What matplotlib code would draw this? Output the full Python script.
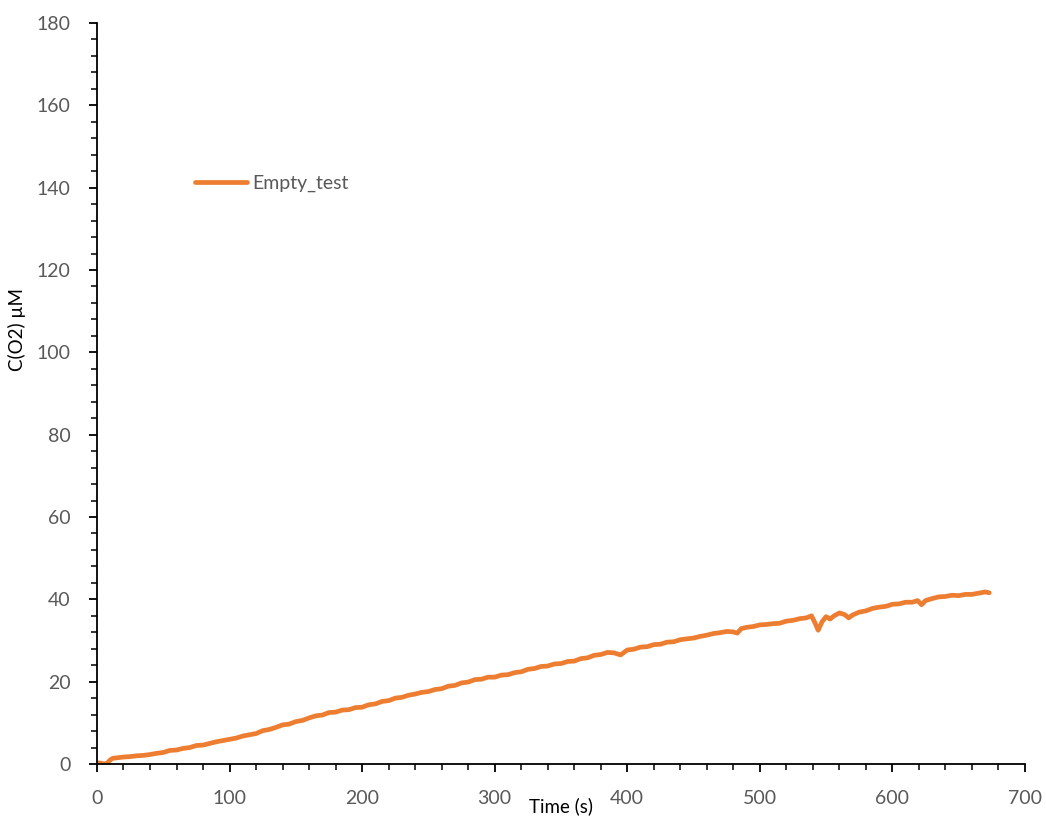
import matplotlib
matplotlib.use("Agg")
import matplotlib.pyplot as plt
from matplotlib.ticker import MultipleLocator

plt.rcParams['font.family'] = ['Lato', 'DejaVu Sans']

# Oxygen concentration recorded during the empty-chamber test
time_s = [0, 3, 6, 8, 10, 12, 15, 20, 25, 30, 35, 40, 45, 50, 55, 60, 65, 70,
          75, 80, 85, 90, 95, 100, 105, 110, 115, 120, 125, 130, 135, 140, 145,
          150, 155, 160, 165, 170, 175, 180, 185, 190, 195, 200, 205, 210, 215,
          220, 225, 230, 235, 240, 245, 250, 255, 260, 265, 270, 275, 280, 285,
          290, 295, 300, 305, 310, 315, 320, 325, 330, 335, 340, 345, 350, 355,
          360, 365, 370, 375, 380, 385, 390, 395, 400, 405, 410, 415, 420, 425,
          430, 435, 440, 445, 450, 455, 460, 465, 470, 475, 480, 483, 486, 490,
          495, 500, 505, 510, 515, 520, 525, 530, 535, 539, 542, 544, 547, 550,
          553, 556, 560, 564, 567, 570, 575, 580, 585, 590, 595, 600, 605, 610,
          615, 619, 622, 625, 630, 635, 640, 645, 650, 655, 660, 665, 670, 673]
c_o2 = [0.3, 0.2, 0.0, 0.3, 1.0, 1.4, 1.5, 1.7, 1.8, 2.0, 2.1, 2.3, 2.6, 2.8,
        3.3, 3.4, 3.8, 4.0, 4.5, 4.6, 5.0, 5.4, 5.7, 6.0, 6.3, 6.8, 7.1, 7.4,
        8.1, 8.4, 8.9, 9.5, 9.7, 10.3, 10.6, 11.2, 11.7, 11.9, 12.5, 12.6,
        13.1, 13.2, 13.7, 13.8, 14.4, 14.6, 15.2, 15.4, 16.0, 16.2, 16.7, 17.0,
        17.4, 17.6, 18.1, 18.3, 18.9, 19.1, 19.7, 19.9, 20.5, 20.6, 21.1, 21.1,
        21.6, 21.7, 22.2, 22.4, 23.0, 23.2, 23.7, 23.8, 24.3, 24.4, 24.9, 25.0,
        25.6, 25.8, 26.4, 26.6, 27.1, 27.0, 26.5, 27.7, 27.9, 28.4, 28.5, 29.0,
        29.1, 29.6, 29.7, 30.2, 30.4, 30.6, 31.0, 31.3, 31.7, 31.9, 32.2, 32.1,
        31.8, 32.9, 33.2, 33.4, 33.8, 33.9, 34.1, 34.2, 34.7, 34.9, 35.3, 35.5,
        36.0, 34.0, 32.5, 34.6, 35.8, 35.2, 36.0, 36.7, 36.3, 35.5, 36.2, 36.9,
        37.2, 37.8, 38.1, 38.3, 38.8, 38.9, 39.3, 39.3, 39.7, 38.7, 39.7, 40.2,
        40.6, 40.7, 41.0, 40.9, 41.2, 41.2, 41.5, 41.8, 41.6]

fig = plt.figure(figsize=(10.46, 8.16), dpi=100)
ax = fig.add_axes([0.0927, 0.0637, 0.8872, 0.9081])

ax.plot(time_s, c_o2, color='#ED7D31', lw=3.4, solid_capstyle='round',
        label='Empty_test')

ax.set_xlim(0, 700)
ax.set_ylim(0, 180)
ax.xaxis.set_major_locator(MultipleLocator(100))
ax.xaxis.set_minor_locator(MultipleLocator(20))
ax.yaxis.set_major_locator(MultipleLocator(20))
ax.yaxis.set_minor_locator(MultipleLocator(4))

for side in ('top', 'right'):
    ax.spines[side].set_visible(False)
for side in ('left', 'bottom'):
    ax.spines[side].set_linewidth(1.3)
    ax.spines[side].set_color('black')

ax.tick_params(which='major', direction='out', length=6, width=1.3,
               color='black', labelsize=14, labelcolor='#595959', pad=13)
ax.tick_params(which='minor', direction='out', length=4.5, width=1.1,
               color='black')

ax.set_xlabel('Time (s)', fontsize=13.5, color='black')
ax.set_ylabel('C(O2) µM', fontsize=13.5, color='black')
ax.xaxis.set_label_coords(0.5, -0.0445)
ax.yaxis.set_label_coords(-0.077, 0.586)

leg = ax.legend(loc='center left', bbox_to_anchor=(0.097, 0.783), frameon=False,
                fontsize=14, handlelength=2.7, handletextpad=0.25,
                borderaxespad=0)
for t in leg.get_texts():
    t.set_color('#595959')

fig.savefig('out.png', dpi=100)
